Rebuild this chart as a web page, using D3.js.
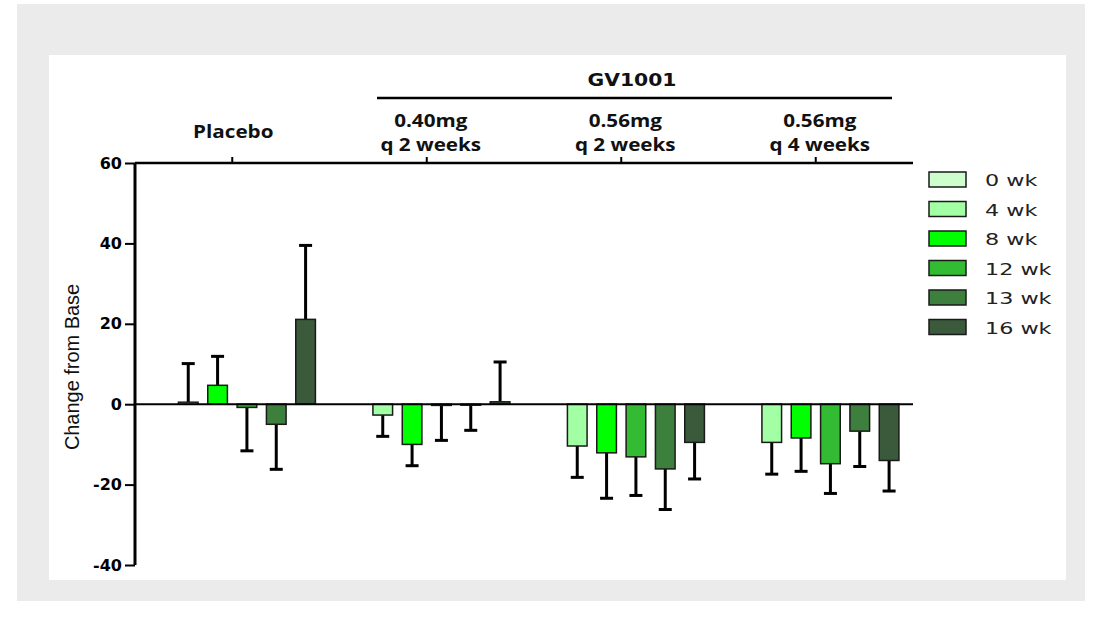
<!DOCTYPE html>
<html>
<head>
<meta charset="utf-8">
<script src="https://cdn.jsdelivr.net/npm/d3@7"></script>
<style>
  html, body { margin: 0; padding: 0; background: #ffffff; }
  svg { display: block; }
</style>
</head>
<body>
<svg id="chart" width="1102" height="628"></svg>
<script>
// ---- data ----
const groups = ["Placebo", "0.40mg|q 2 weeks", "0.56mg|q 2 weeks", "0.56mg|q 4 weeks"];
const series = ["0 wk", "4 wk", "8 wk", "12 wk", "13 wk", "16 wk"];
const colors = ["#ccffcc", "#a3ffa3", "#00ff00", "#33bb33", "#3d803d", "#3b5a3b"];
const placeboMean = [0, 0.5, 4.7, -0.8, -5.0, 21.1];
const placeboSD   = [0, 9.6, 7.2, 10.8, 11.2, 18.4];
const g040q2Mean  = [0, -2.7, -10.0, -0.3, -0.1, 0.6];
const g040q2SD    = [0, 5.3, 5.3, 8.7, 6.4, 9.9];
const g056q2Mean  = [0, -10.4, -12.1, -13.1, -16.1, -9.5];
const g056q2SD    = [0, 7.8, 11.3, 9.6, 10.1, 9.1];
const g056q4Mean  = [0, -9.5, -8.4, -14.8, -6.7, -14.0];
const g056q4SD    = [0, 7.9, 8.3, 7.4, 8.8, 7.6];
const yTicks = [60, 40, 20, 0, -20, -40];
const yTitle = "Change from Base";
const superLabel = "GV1001";

const means = [placeboMean, g040q2Mean, g056q2Mean, g056q4Mean];
const sds = [placeboSD, g040q2SD, g056q2SD, g056q4SD];
const rows = [];
groups.forEach((g, gi) => series.forEach((s, si) => {
  rows.push({ group: g, series: s, si, value: means[gi][si], sd: sds[gi][si] });
}));

// ---- layout ----
const svg = d3.select("#chart");
svg.append("rect").attr("x", 17).attr("y", 4).attr("width", 1068).attr("height", 597).attr("fill", "#ebebeb");
svg.append("rect").attr("x", 49).attr("y", 55).attr("width", 1017).attr("height", 525).attr("fill", "#ffffff");

const x0 = d3.scaleBand().domain(groups).range([135, 913]).paddingInner(0).paddingOuter(0);
const x1 = d3.scaleBand().domain(series).range([0, x0.bandwidth()]).paddingInner(0.33).paddingOuter(0.48);
const y = d3.scaleLinear().domain([-40, 60]).range([565, 163]);

const colorOf = d3.scaleOrdinal().domain(series).range(colors);

// bars
const barG = svg.append("g");
rows.filter(d => !(d.value === 0 && d.sd === 0)).forEach(d => {
  const bx = x0(d.group) + x1(d.series);
  const bw = x1.bandwidth();
  const cx = bx + bw / 2;
  const dir = d.value >= 0 ? 1 : -1;
  const end = d.value + dir * d.sd;
  barG.append("line").attr("x1", cx).attr("x2", cx)
    .attr("y1", y(d.value)).attr("y2", y(end))
    .attr("stroke", "#000").attr("stroke-width", 3);
  barG.append("line").attr("x1", cx - 6.5).attr("x2", cx + 6.5)
    .attr("y1", y(end)).attr("y2", y(end))
    .attr("stroke", "#000").attr("stroke-width", 3);
  barG.append("rect")
    .attr("x", bx).attr("width", bw)
    .attr("y", Math.min(y(d.value), y(0)))
    .attr("height", Math.max(1, Math.abs(y(d.value) - y(0))))
    .attr("fill", colorOf(d.series))
    .attr("stroke", "#1a1a1a").attr("stroke-width", 1.5);
});

// zero line
svg.append("line").attr("x1", 135).attr("x2", 913).attr("y1", y(0)).attr("y2", y(0))
  .attr("stroke", "#000").attr("stroke-width", 2);

// y axis
const yAxis = d3.axisLeft(y).tickValues(yTicks).tickSize(10).tickPadding(3).tickFormat(d => String(d));
const yg = svg.append("g").attr("transform", "translate(135,0)").call(yAxis);
yg.select(".domain").attr("stroke", "#000").attr("stroke-width", 3).attr("d", `M0,${y(60)}V${y(-40)}`);
yg.selectAll(".tick line").attr("stroke", "#000").attr("stroke-width", 2);
yg.selectAll(".tick text").attr("font-family", "DejaVu Sans").attr("font-weight", "bold")
  .attr("font-size", 16).attr("fill", "#000");

// top axis with group ticks
const topAxis = d3.axisTop(x0).tickSize(6).tickFormat("");
const tg = svg.append("g").attr("transform", `translate(0,${y(60)})`).call(topAxis);
tg.select(".domain").attr("stroke", "#000").attr("stroke-width", 2.5).attr("d", "M135,0H913");
tg.selectAll(".tick line").attr("stroke", "#000").attr("stroke-width", 2);

// group labels
groups.forEach(g => {
  const cx = x0(g) + x0.bandwidth() / 2;
  const parts = g.split("|");
  const lines = parts.length === 1 ? [[parts[0], 138]] : [[parts[0], 127], [parts[1], 151]];
  lines.forEach(([txt, by]) => {
    svg.append("text").attr("transform", `translate(${cx + (parts.length === 1 ? 1 : 4)},${by}) scale(1.2,1)`)
      .attr("text-anchor", "middle")
      .attr("font-family", "Open Sans").attr("font-weight", "bold").attr("font-size", 17.2).attr("fill", "#111")
      .text(txt);
  });
});

// GV1001 super label
svg.append("text").attr("transform", "translate(632,86) scale(1.13,1)").attr("text-anchor", "middle")
  .attr("font-family", "DejaVu Sans").attr("font-weight", "bold").attr("font-size", 18).attr("fill", "#111")
  .text(superLabel);
svg.append("line").attr("x1", 377).attr("x2", 892).attr("y1", 98).attr("y2", 98)
  .attr("stroke", "#000").attr("stroke-width", 2.5);

// y title
svg.append("text").attr("transform", "translate(79,367) rotate(-90) scale(0.95,1)").attr("text-anchor", "middle")
  .attr("font-family", "Liberation Sans Narrow, Liberation Sans").attr("font-size", 21).attr("fill", "#111")
  .text(yTitle);

// legend
const lg = svg.append("g").attr("transform", "translate(929,172)");
series.forEach((s, i) => {
  const gy = i * 29.5;
  lg.append("rect").attr("x", 0).attr("y", gy).attr("width", 37).attr("height", 15)
    .attr("fill", colorOf(s)).attr("stroke", "#1a1a1a").attr("stroke-width", 1.5);
  lg.append("text").attr("transform", `translate(56,${gy + 14}) scale(1.35,1)`).attr("font-family", "DejaVu Sans")
    .attr("font-size", 16.5).attr("fill", "#222").text(s);
});
</script>
</body>
</html>
